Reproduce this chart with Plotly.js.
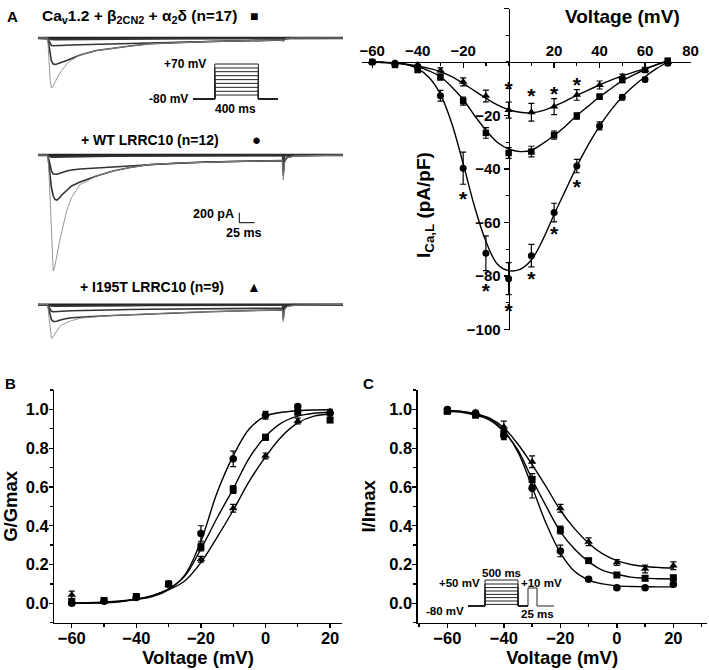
<!DOCTYPE html>
<html>
<head>
<meta charset="utf-8">
<script src="https://cdn.plot.ly/plotly-3.0.1.min.js"></script>
<style>
  html, body { margin: 0; padding: 0; background: #fff; }
  #fig { width: 709px; height: 670px; }
</style>
</head>
<body>
<div id="fig"></div>
<script>
// ---------- data: panel A, I-V ----------
const ivV = [-60, -50, -40, -30, -20, -10, 0, 10, 20, 30, 40, 50, 60, 70];
const ivCav = [0, -1.1, -3, -5.7, -14.6, -26.5, -34, -33.5, -27.3, -20.2, -13, -6.7, -3, 0.5];
const ivCavErr = [0.5, 0.5, 0.8, 1, 1.5, 2, 2, 2, 1.5, 1.2, 1, 1, 0.8, 0.8];
const ivWT = [0, -0.5, -2, -12.6, -39.7, -71.5, -81, -72.4, -56.3, -38.9, -23.9, -13.2, -6.5, -0.5];
const ivWTErr = [0.5, 0.5, 1, 2, 6, 6.5, 6, 4.2, 3.5, 2.5, 1.5, 1, 0.8, 0.8];
const ivMut = [0, -0.5, -1, -3.2, -7.4, -12.7, -18, -18.8, -16.7, -12.3, -8.6, -5.5, -3, 0];
const ivMutErr = [0.5, 0.5, 0.8, 1, 1.5, 2.2, 3, 3.3, 3, 2, 1.5, 1, 0.8, 0.8];

// fitted curves, every 5 mV
const ivFitV = [-60, -55, -50, -45, -40, -35, -30, -25, -20, -15, -10, -5, 0, 5, 10, 15, 20, 25, 30, 35, 40, 45, 50, 55, 60, 65, 70];
const ivFitCav = [0, -0.2, -0.4, -1, -1.8, -3.3, -5.5, -9.3, -14, -20, -25.5, -30, -32.5, -33.5, -33, -30.5, -27.5, -24, -20, -16.5, -13, -10, -7, -4.8, -2.8, -1, 0.5];
const ivFitWT = [0, -0.1, -0.3, -0.9, -2.5, -5.8, -12, -23, -38, -54, -67, -75.5, -78, -77.5, -74, -66.5, -57, -48, -39, -31, -24, -18, -13, -9, -5.5, -2.5, 0];
const ivFitMut = [0, -0.2, -0.4, -0.8, -1.5, -2.4, -3.6, -5.5, -8, -10.8, -13.5, -16, -17.8, -18.8, -19, -18.2, -16.5, -14.6, -12.5, -10.5, -8.6, -6.8, -5.2, -3.8, -2.5, -1.1, 0.3];

// significance marks (centre of the * glyph)
const starV = [0, 10, 20, 30, -20, -10, 0, 10, 20, 30];
const starI = [-9, -11.7, -11.1, -7.4, -50.3, -84.6, -92, -80.2, -63.4, -45.6];
const starGlyphShift = -1.7;   // the * sits high in its text box

// ---------- data: panel A, current traces (pA vs ms) ----------
const traceT = [0, 16, 18, 20, 22, 25, 28, 31, 35, 39, 47, 55, 69, 96, 123, 151, 184, 230, 280, 340, 400, 401, 402, 404, 408, 420, 500];
const zeroTrace = [0, 0, 0, 0, 0, 0, 0, 0, 0, 0, 0, 0, 0, 0, 0, 0, 0, 0, 0, 0, 0, 0, 0, 0, 0, 0, 0];

const cavDeep = [0, 0, -450, -850, -1000, -960, -880, -800, -720, -650, -520, -440, -340, -250, -200, -160, -115, -90, -70, -55, -40, -40, -60, -30, -10, 0, 0];
const cavMid = [0, 0, -150, -350, -460, -520, -530, -520, -505, -490, -450, -410, -340, -250, -200, -160, -115, -90, -70, -55, -40, -40, -55, -30, -10, 0, 0];
const cavSmall = [0, 0, -60, -120, -150, -155, -155, -153, -150, -150, -145, -140, -135, -130, -120, -110, -100, -85, -70, -55, -40, -40, -50, -25, -10, 0, 0];
const cavBase = [0, 0, -15, -25, -30, -30, -30, -30, -30, -30, -28, -27, -25, -22, -20, -18, -15, -12, -10, -8, -5, -5, -10, -5, 0, 0, 0];

const wtDeep = [0, 0, -350, -900, -1500, -2320, -2200, -1980, -1750, -1530, -1120, -850, -590, -420, -320, -250, -190, -160, -140, -125, -115, -115, -500, -150, -60, -20, 0];
const wtMid = [0, 0, -200, -450, -650, -820, -890, -900, -860, -800, -700, -620, -540, -420, -320, -250, -190, -160, -140, -125, -115, -115, -420, -140, -50, -15, 0];
const wtSmall = [0, 0, -100, -220, -320, -380, -390, -385, -370, -350, -320, -300, -280, -260, -240, -215, -180, -160, -140, -125, -110, -110, -350, -120, -50, -15, 0];
const wtBase = [0, 0, -20, -35, -40, -40, -40, -40, -40, -38, -36, -34, -30, -26, -22, -20, -17, -15, -12, -10, -8, -8, -150, -20, -5, 0, 0];

const mutDeep = [0, 0, -250, -520, -670, -640, -580, -520, -450, -400, -360, -320, -270, -235, -215, -200, -180, -160, -140, -120, -105, -105, -340, -100, -40, -10, 0];
const mutMid = [0, 0, -100, -220, -300, -335, -340, -330, -310, -295, -275, -260, -245, -230, -215, -200, -180, -160, -140, -120, -105, -105, -300, -90, -30, -10, 0];
const mutSmall = [0, 0, -50, -100, -130, -140, -140, -138, -135, -130, -125, -120, -115, -105, -100, -95, -90, -85, -80, -75, -70, -70, -200, -60, -20, 0, 0];
const mutBase = [0, 0, -15, -25, -30, -30, -30, -30, -30, -28, -26, -25, -23, -20, -18, -16, -14, -12, -10, -8, -6, -6, -100, -10, -3, 0, 0];

// scale bar
const scaleBarPA = 200;
const scaleBarMs = 25;
const scaleBarAt = [330, -1154];   // ms, pA of the corner top

// voltage protocols
const protoAHold = -80;
const protoASteps = [-63, -47, -30, -13, 3, 20, 37, 53, 70];
const protoATimes = [0, 200, 600, 780];          // ms: start, step on, step off, end
const protoCHold = -80;
const protoCSteps = [-72, -55, -38, -22, -5, 12, 30, 50];
const protoCTest = 10;
const protoCEdges = [0, 17, 50, 60, 69, 86];     // schematic time, not to scale

// ---------- data: panels B and C ----------
const bcV = [-60, -50, -40, -30, -20, -10, 0, 10, 20];
const gCav = [0.01, 0.015, 0.035, 0.1, 0.29, 0.587, 0.856, 0.985, 0.945];
const gCavErr = [0.01, 0.01, 0.01, 0.01, 0.02, 0.02, 0.015, 0.01, 0.01];
const gWT = [0.0, 0.01, 0.03, 0.1, 0.36, 0.745, 0.97, 1.015, 0.98];
const gWTErr = [0.01, 0.01, 0.01, 0.01, 0.04, 0.04, 0.02, 0.01, 0.01];
const gMut = [0.043, 0.01, 0.03, 0.095, 0.227, 0.49, 0.76, 0.94, 0.99];
const gMutErr = [0.02, 0.01, 0.01, 0.01, 0.015, 0.02, 0.015, 0.015, 0.01];

const iCav = [0.99, 0.97, 0.876, 0.639, 0.378, 0.22, 0.146, 0.129, 0.132];
const iCavErr = [0.01, 0.01, 0.02, 0.03, 0.02, 0.01, 0.01, 0.01, 0.01];
const iWT = [1.0, 0.979, 0.864, 0.593, 0.27, 0.124, 0.08, 0.08, 0.098];
const iWTErr = [0.01, 0.01, 0.02, 0.05, 0.03, 0.01, 0.01, 0.01, 0.01];
const iMut = [0.99, 0.985, 0.91, 0.73, 0.49, 0.317, 0.21, 0.177, 0.194];
const iMutErr = [0.01, 0.01, 0.03, 0.03, 0.02, 0.02, 0.015, 0.02, 0.02];

const bcFitV = [-60, -55, -50, -45, -40, -35, -30, -25, -20, -15, -10, -5, 0, 5, 10, 15, 20];
const gFitWT = [0.0, 0.001, 0.003, 0.008, 0.02, 0.035, 0.07, 0.145, 0.32, 0.57, 0.76, 0.9, 0.965, 0.985, 0.993, 0.997, 0.998];
const gFitCav = [0.0, 0.001, 0.004, 0.01, 0.02, 0.04, 0.075, 0.14, 0.28, 0.44, 0.59, 0.75, 0.86, 0.93, 0.965, 0.98, 0.985];
const gFitMut = [0.002, 0.003, 0.006, 0.012, 0.022, 0.04, 0.07, 0.115, 0.21, 0.34, 0.48, 0.63, 0.755, 0.86, 0.93, 0.965, 0.975];
const iFitWT = [0.995, 0.99, 0.975, 0.95, 0.89, 0.78, 0.6, 0.41, 0.26, 0.165, 0.12, 0.1, 0.09, 0.087, 0.086, 0.085, 0.085];
const iFitCav = [0.99, 0.985, 0.97, 0.945, 0.885, 0.79, 0.64, 0.5, 0.37, 0.28, 0.215, 0.17, 0.15, 0.135, 0.13, 0.127, 0.125];
const iFitMut = [0.995, 0.99, 0.978, 0.955, 0.905, 0.82, 0.715, 0.6, 0.48, 0.385, 0.31, 0.255, 0.22, 0.2, 0.19, 0.185, 0.182];

// ---------- helpers ----------
const W = 709, H = 670;
const FONT = 'Liberation Sans, Arial, Helvetica, sans-serif';

function dx(a, b) { return [a / W, b / W]; }
function dy(top, bottom) { return [1 - bottom / H, 1 - top / H]; }

function note(text, px, py, size, opt) {
    return Object.assign({
        text: text, x: px / W, y: 1 - py / H, xref: 'paper', yref: 'paper',
        showarrow: false, xanchor: 'center', yanchor: 'middle',
        font: { family: FONT, size: size, color: '#000', weight: 'bold' }
    }, opt || {});
}

function hidden(domain, range, anchor) {
    return { domain: domain, range: range, anchor: anchor, visible: false, fixedrange: true };
}

function dataAxis(extra) {
    return Object.assign({
        showline: true, linecolor: '#000', linewidth: 1.3,
        ticks: 'outside', ticklen: 4, tickwidth: 1.3, tickcolor: '#000',
        showgrid: false, zeroline: false,
        tickfont: { family: FONT, size: 16.5, color: '#000', weight: 'bold' }
    }, extra);
}

function pointsTrace(x, y, err, symbol, size, xa, ya) {
    return {
        x: x, y: y, xaxis: xa, yaxis: ya, type: 'scatter', mode: 'markers',
        marker: { symbol: symbol, size: size, color: '#000' },
        error_y: { type: 'data', array: err, color: '#000', thickness: 1.2, width: 3 },
        cliponaxis: false, showlegend: false, hoverinfo: 'skip'
    };
}

function fitTrace(x, y, xa, ya) {
    return {
        x: x, y: y, xaxis: xa, yaxis: ya, type: 'scatter', mode: 'lines',
        line: { color: '#000', width: 1.4, shape: 'spline' },
        showlegend: false, hoverinfo: 'skip'
    };
}

function currentTrace(y, xa, ya, color, width) {
    return {
        x: traceT, y: y, xaxis: xa, yaxis: ya, type: 'scatter', mode: 'lines',
        line: { color: color, width: width },
        showlegend: false, hoverinfo: 'skip'
    };
}

// protocol A: one path per voltage step, joined with gaps
function protoAPath() {
    const x = [], y = [];
    const t = protoATimes;
    protoASteps.forEach(v => {
        x.push(t[0], t[1], t[1], t[2], t[2], t[3], null);
        y.push(protoAHold, protoAHold, v, v, protoAHold, protoAHold, null);
    });
    return { x: x, y: y };
}

function protoCPath() {
    const x = [], y = [];
    const e = protoCEdges;
    protoCSteps.forEach(v => {
        x.push(e[0], e[1], e[1], e[2], e[2], e[3], null);
        y.push(protoCHold, protoCHold, v, v, protoCHold, protoCHold, null);
    });
    x.push(e[3], e[3], e[4], e[4], e[5]);
    y.push(protoCHold, protoCTest, protoCTest, protoCHold, protoCHold);
    return { x: x, y: y };
}

// ---------- axes geometry ----------
const ivXRange = [-64.5, 80], ivYRange = [-100, 20];
const ivXDomain = dx(362, 690.5), ivYDomain = dy(8.5, 329.5);
function crossAt(domain, range) {
    return domain[0] + (0 - range[0]) / (range[1] - range[0]) * (domain[1] - domain[0]);
}

const traces = [];

// current traces, three recordings
[[cavBase, cavSmall, cavMid, cavDeep, 'x2', 'y2'],
 [wtBase, wtSmall, wtMid, wtDeep, 'x3', 'y3'],
 [mutBase, mutSmall, mutMid, mutDeep, 'x4', 'y4']].forEach(g => {
    traces.push(currentTrace(zeroTrace, g[4], g[5], '#222', 2.4));
    traces.push(currentTrace(g[0], g[4], g[5], '#333', 1.8));
    traces.push(currentTrace(g[1], g[4], g[5], '#333', 1.6));
    traces.push(currentTrace(g[2], g[4], g[5], '#333', 1.6));
    traces.push(currentTrace(g[3], g[4], g[5], '#8a8a8a', 0.9));
});

// scale bar on the WT recording
traces.push({
    x: [scaleBarAt[0], scaleBarAt[0], scaleBarAt[0] + scaleBarMs],
    y: [scaleBarAt[1], scaleBarAt[1] - scaleBarPA, scaleBarAt[1] - scaleBarPA],
    xaxis: 'x3', yaxis: 'y3', type: 'scatter', mode: 'lines',
    line: { color: '#000', width: 1 }, showlegend: false, hoverinfo: 'skip'
});

// protocols
const pa = protoAPath();
traces.push({ x: pa.x, y: pa.y, xaxis: 'x5', yaxis: 'y5', type: 'scatter', mode: 'lines',
    line: { color: '#222', width: 1 }, showlegend: false, hoverinfo: 'skip' });
const pc = protoCPath();
traces.push({ x: pc.x, y: pc.y, xaxis: 'x8', yaxis: 'y8', type: 'scatter', mode: 'lines',
    line: { color: '#222', width: 1 }, showlegend: false, hoverinfo: 'skip' });

// I-V
traces.push(fitTrace(ivFitV, ivFitCav, 'x', 'y'));
traces.push(fitTrace(ivFitV, ivFitWT, 'x', 'y'));
traces.push(fitTrace(ivFitV, ivFitMut, 'x', 'y'));
traces.push(pointsTrace(ivV, ivCav, ivCavErr, 'square', 6.5, 'x', 'y'));
traces.push(pointsTrace(ivV, ivWT, ivWTErr, 'circle', 7, 'x', 'y'));
traces.push(pointsTrace(ivV, ivMut, ivMutErr, 'triangle-up', 7.5, 'x', 'y'));
traces.push({
    x: starV, y: starI.map(v => v + starGlyphShift), xaxis: 'x', yaxis: 'y',
    type: 'scatter', mode: 'text',
    text: starV.map(() => '*'), textposition: 'middle center',
    textfont: { family: FONT, size: 21, color: '#000', weight: 'bold' },
    cliponaxis: false, showlegend: false, hoverinfo: 'skip'
});

// B: activation
traces.push(fitTrace(bcFitV, gFitWT, 'x6', 'y6'));
traces.push(fitTrace(bcFitV, gFitCav, 'x6', 'y6'));
traces.push(fitTrace(bcFitV, gFitMut, 'x6', 'y6'));
traces.push(pointsTrace(bcV, gCav, gCavErr, 'square', 7, 'x6', 'y6'));
traces.push(pointsTrace(bcV, gWT, gWTErr, 'circle', 7.5, 'x6', 'y6'));
traces.push(pointsTrace(bcV, gMut, gMutErr, 'triangle-up', 7.5, 'x6', 'y6'));

// C: inactivation
traces.push(fitTrace(bcFitV, iFitWT, 'x7', 'y7'));
traces.push(fitTrace(bcFitV, iFitCav, 'x7', 'y7'));
traces.push(fitTrace(bcFitV, iFitMut, 'x7', 'y7'));
traces.push(pointsTrace(bcV, iCav, iCavErr, 'square', 7, 'x7', 'y7'));
traces.push(pointsTrace(bcV, iWT, iWTErr, 'circle', 7.5, 'x7', 'y7'));
traces.push(pointsTrace(bcV, iMut, iMutErr, 'triangle-up', 7.5, 'x7', 'y7'));

const ivTickFont = { family: FONT, size: 15, color: '#000', weight: 'bold' };
const titleFont = { family: FONT, size: 18.5, color: '#000', weight: 'bold' };

const layout = {
    width: W, height: H,
    margin: { l: 0, r: 0, t: 0, b: 0 },
    paper_bgcolor: '#fff', plot_bgcolor: 'rgba(0,0,0,0)',
    showlegend: false,
    font: { family: FONT, color: '#000' },

    // I-V, axes crossing at the origin
    xaxis: dataAxis({
        domain: ivXDomain, range: ivXRange, anchor: 'free',
        position: crossAt(ivYDomain, ivYRange), side: 'top',
        ticks: 'inside', ticklen: 5,
        tickmode: 'array', tickvals: [-60, -40, -20, 20, 40, 60, 80],
        minor: { tickmode: 'linear', tick0: 0, dtick: 10, ticks: 'inside', ticklen: 3, tickcolor: '#000' },
        tickfont: ivTickFont
    }),
    yaxis: dataAxis({
        domain: ivYDomain, range: ivYRange, anchor: 'free',
        position: crossAt(ivXDomain, ivXRange), ticklen: 5,
        tickmode: 'array', tickvals: [-100, -80, -60, -40, -20, 20],
        minor: { tickmode: 'linear', tick0: 0, dtick: 10, ticks: 'outside', ticklen: 3, tickcolor: '#000' },
        tickfont: ivTickFont
    }),

    // current recordings
    xaxis2: hidden(dx(38, 343), [0, 500], 'y2'),
    yaxis2: hidden(dy(30, 95), [-1140, 160], 'x2'),
    xaxis3: hidden(dx(38, 343), [0, 500], 'y3'),
    yaxis3: hidden(dy(147, 278), [-2460, 160], 'x3'),
    xaxis4: hidden(dx(38, 343), [0, 500], 'y4'),
    yaxis4: hidden(dy(297, 345), [-806, 154], 'x4'),

    // protocol insets
    xaxis5: hidden(dx(193, 278), [0, 780], 'y5'),
    yaxis5: hidden(dy(62, 101), [-88.6, 78.6], 'x5'),
    xaxis8: hidden(dx(468, 556), [0, 88], 'y8'),
    yaxis8: hidden(dy(575, 609), [-95, 75], 'x8'),

    // B
    xaxis6: dataAxis({
        domain: dx(54.3, 341.7), range: [-65.4, 23.6], anchor: 'y6',
        tick0: 0, dtick: 20, ticklabelstandoff: -4,
        minor: { tick0: 0, dtick: 10, ticks: 'outside', ticklen: 3, tickcolor: '#000' },
        title: { text: 'Voltage (mV)', font: titleFont, standoff: 0 }
    }),
    yaxis6: dataAxis({
        domain: dy(390, 622.7), range: [-0.1, 1.1], anchor: 'x6',
        tick0: 0, dtick: 0.2, tickformat: '.1f', ticklabelstandoff: -3,
        minor: { tick0: 0, dtick: 0.1, ticks: 'outside', ticklen: 3, tickcolor: '#000' },
        title: { text: 'G/Gmax', font: titleFont, standoff: 8 }
    }),

    // C
    xaxis7: dataAxis({
        domain: dx(417.7, 706.7), range: [-70.5, 31.8], anchor: 'y7',
        tick0: 0, dtick: 20, ticklabelstandoff: -4,
        minor: { tick0: 0, dtick: 10, ticks: 'outside', ticklen: 3, tickcolor: '#000' },
        title: { text: 'Voltage (mV)', font: titleFont, standoff: 0 }
    }),
    yaxis7: dataAxis({
        domain: dy(390, 622.7), range: [-0.1, 1.1], anchor: 'x7',
        tick0: 0, dtick: 0.2, tickformat: '.1f', ticklabelstandoff: -3,
        minor: { tick0: 0, dtick: 0.1, ticks: 'outside', ticklen: 3, tickcolor: '#000' },
        title: { text: 'I/Imax', font: titleFont, standoff: 8 }
    }),

    annotations: [
        note('A', 12, 16, 15),
        note('B', 10, 383, 15),
        note('C', 368, 383, 15),

        note('Ca<sub>v</sub>1.2 + β<sub>2CN2</sub> + α<sub>2</sub>δ (n=17)', 239, 16, 15.5, { xanchor: 'right' }),
        note('■', 254, 16, 14),
        note('+ WT LRRC10 (n=12)', 150, 140, 14),
        note('●', 256, 140, 15),
        note('+ I195T LRRC10 (n=9)', 152, 287, 14),
        note('▲', 254, 287, 14),

        note('+70 mV', 208, 64, 12, { xanchor: 'right' }),
        note('-80 mV', 190, 99, 12, { xanchor: 'right' }),
        note('400 ms', 235, 109, 12),

        note('200 pA', 236, 214, 12.5, { xanchor: 'right' }),
        note('25 ms', 243, 233, 12.5),

        note('Voltage (mV)', 622, 16, 19),
        note('I<sub>Ca,L</sub> (pA/pF)', 425, 205, 19, { textangle: -90 }),

        note('+50 mV', 482, 583, 11.5, { xanchor: 'right' }),
        note('500 ms', 501, 573, 11.5),
        note('+10 mV', 541, 583, 11.5),
        note('-80 mV', 445, 611, 11.5),
        note('25 ms', 537, 614, 11.5)
    ]
};

Plotly.newPlot('fig', traces, layout, { staticPlot: true, displayModeBar: false });
</script>
</body>
</html>
